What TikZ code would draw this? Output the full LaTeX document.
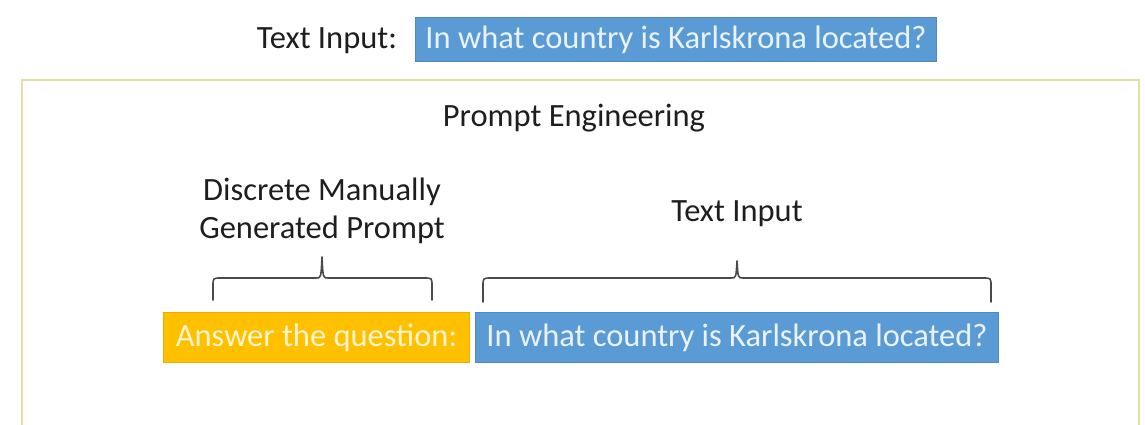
\documentclass[tikz,border=0pt]{standalone}
\usepackage{fontspec}
\setmainfont{Carlito}
\definecolor{boxblue}{HTML}{5B9BD5}
\definecolor{boxblueline}{HTML}{4F89C0}
\definecolor{boxyellow}{HTML}{FFC000}
\definecolor{boxyellowline}{HTML}{E8AE00}
\definecolor{bluetext}{HTML}{EAF2FB}
\definecolor{yellowtext}{HTML}{FFF4D0}
\definecolor{frameline}{HTML}{E2E0A4}
\definecolor{labeltext}{HTML}{1E1E1E}
\definecolor{braceline}{HTML}{4A4A4A}
\begin{document}
\begin{tikzpicture}[x=1pt,y=-1pt,
  bigfont/.style={font=\fontsize{32.5}{38}\selectfont},
  lbl/.style={bigfont,text=labeltext,inner sep=0pt,align=center},
  bluebox/.style={fill=boxblue,draw=boxblueline,line width=1pt,inner sep=0pt,anchor=north west},
  yellowbox/.style={fill=boxyellow,draw=boxyellowline,line width=1pt,inner sep=0pt,anchor=north west},
  bluetxt/.style={bigfont,text=bluetext,inner sep=0pt},
  yellowtxt/.style={bigfont,text=yellowtext,inner sep=0pt},
  bracepath/.style={draw=braceline,line width=1.6pt,line join=round,line cap=round}]
\useasboundingbox (0,0) rectangle (1145,424);
\begin{scope}
\clip (0,0) rectangle (1145,424);
\draw[frameline,line width=2pt] (22,80) rectangle (1139,460);
\end{scope}
% top row
\node[lbl] (til) at (327,41) {Text Input:};
\node[bluebox,minimum width=521pt,minimum height=44pt] (tin) at (415,17) {};
\node[bluetxt] (tint) at (tin.center) {In what country is Karlskrona located?};
% title
\node[lbl] (pe) at (574,118) {Prompt Engineering};
% labels
\node[lbl] (dm) at (322,211) {Discrete Manually\\Generated Prompt};
\node[lbl] (ti) at (737,214) {Text Input};
% bottom boxes
\node[yellowbox,minimum width=306pt,minimum height=50pt] (yb) at (163,312) {};
\node[yellowtxt] (ybt) at (yb.center) {Answer the question:};
\node[bluebox,minimum width=523pt,minimum height=50pt] (bb) at (475,312) {};
\node[bluetxt] (bbt) at (bb.center) {In what country is Karlskrona located?};
% braces
\coordinate (lb1) at (213,300);
\coordinate (lb2) at (432,300);
\coordinate (lt) at (322,257);
\draw[bracepath] (lb1) -- (213,286) .. controls (213,278) .. (221,278) -- (316,278) .. controls (321,278) .. (lt)
  .. controls (323,278) .. (328,278) -- (424,278) .. controls (432,278) .. (432,286) -- (lb2);
\coordinate (rb1) at (483,302);
\coordinate (rb2) at (991,302);
\coordinate (rt) at (737,261);
\draw[bracepath] (rb1) -- (483,286) .. controls (483,278) .. (491,278) -- (731,278) .. controls (736,278) .. (rt)
  .. controls (738,278) .. (743,278) -- (983,278) .. controls (991,278) .. (991,286) -- (rb2);
\end{tikzpicture}
\end{document}
